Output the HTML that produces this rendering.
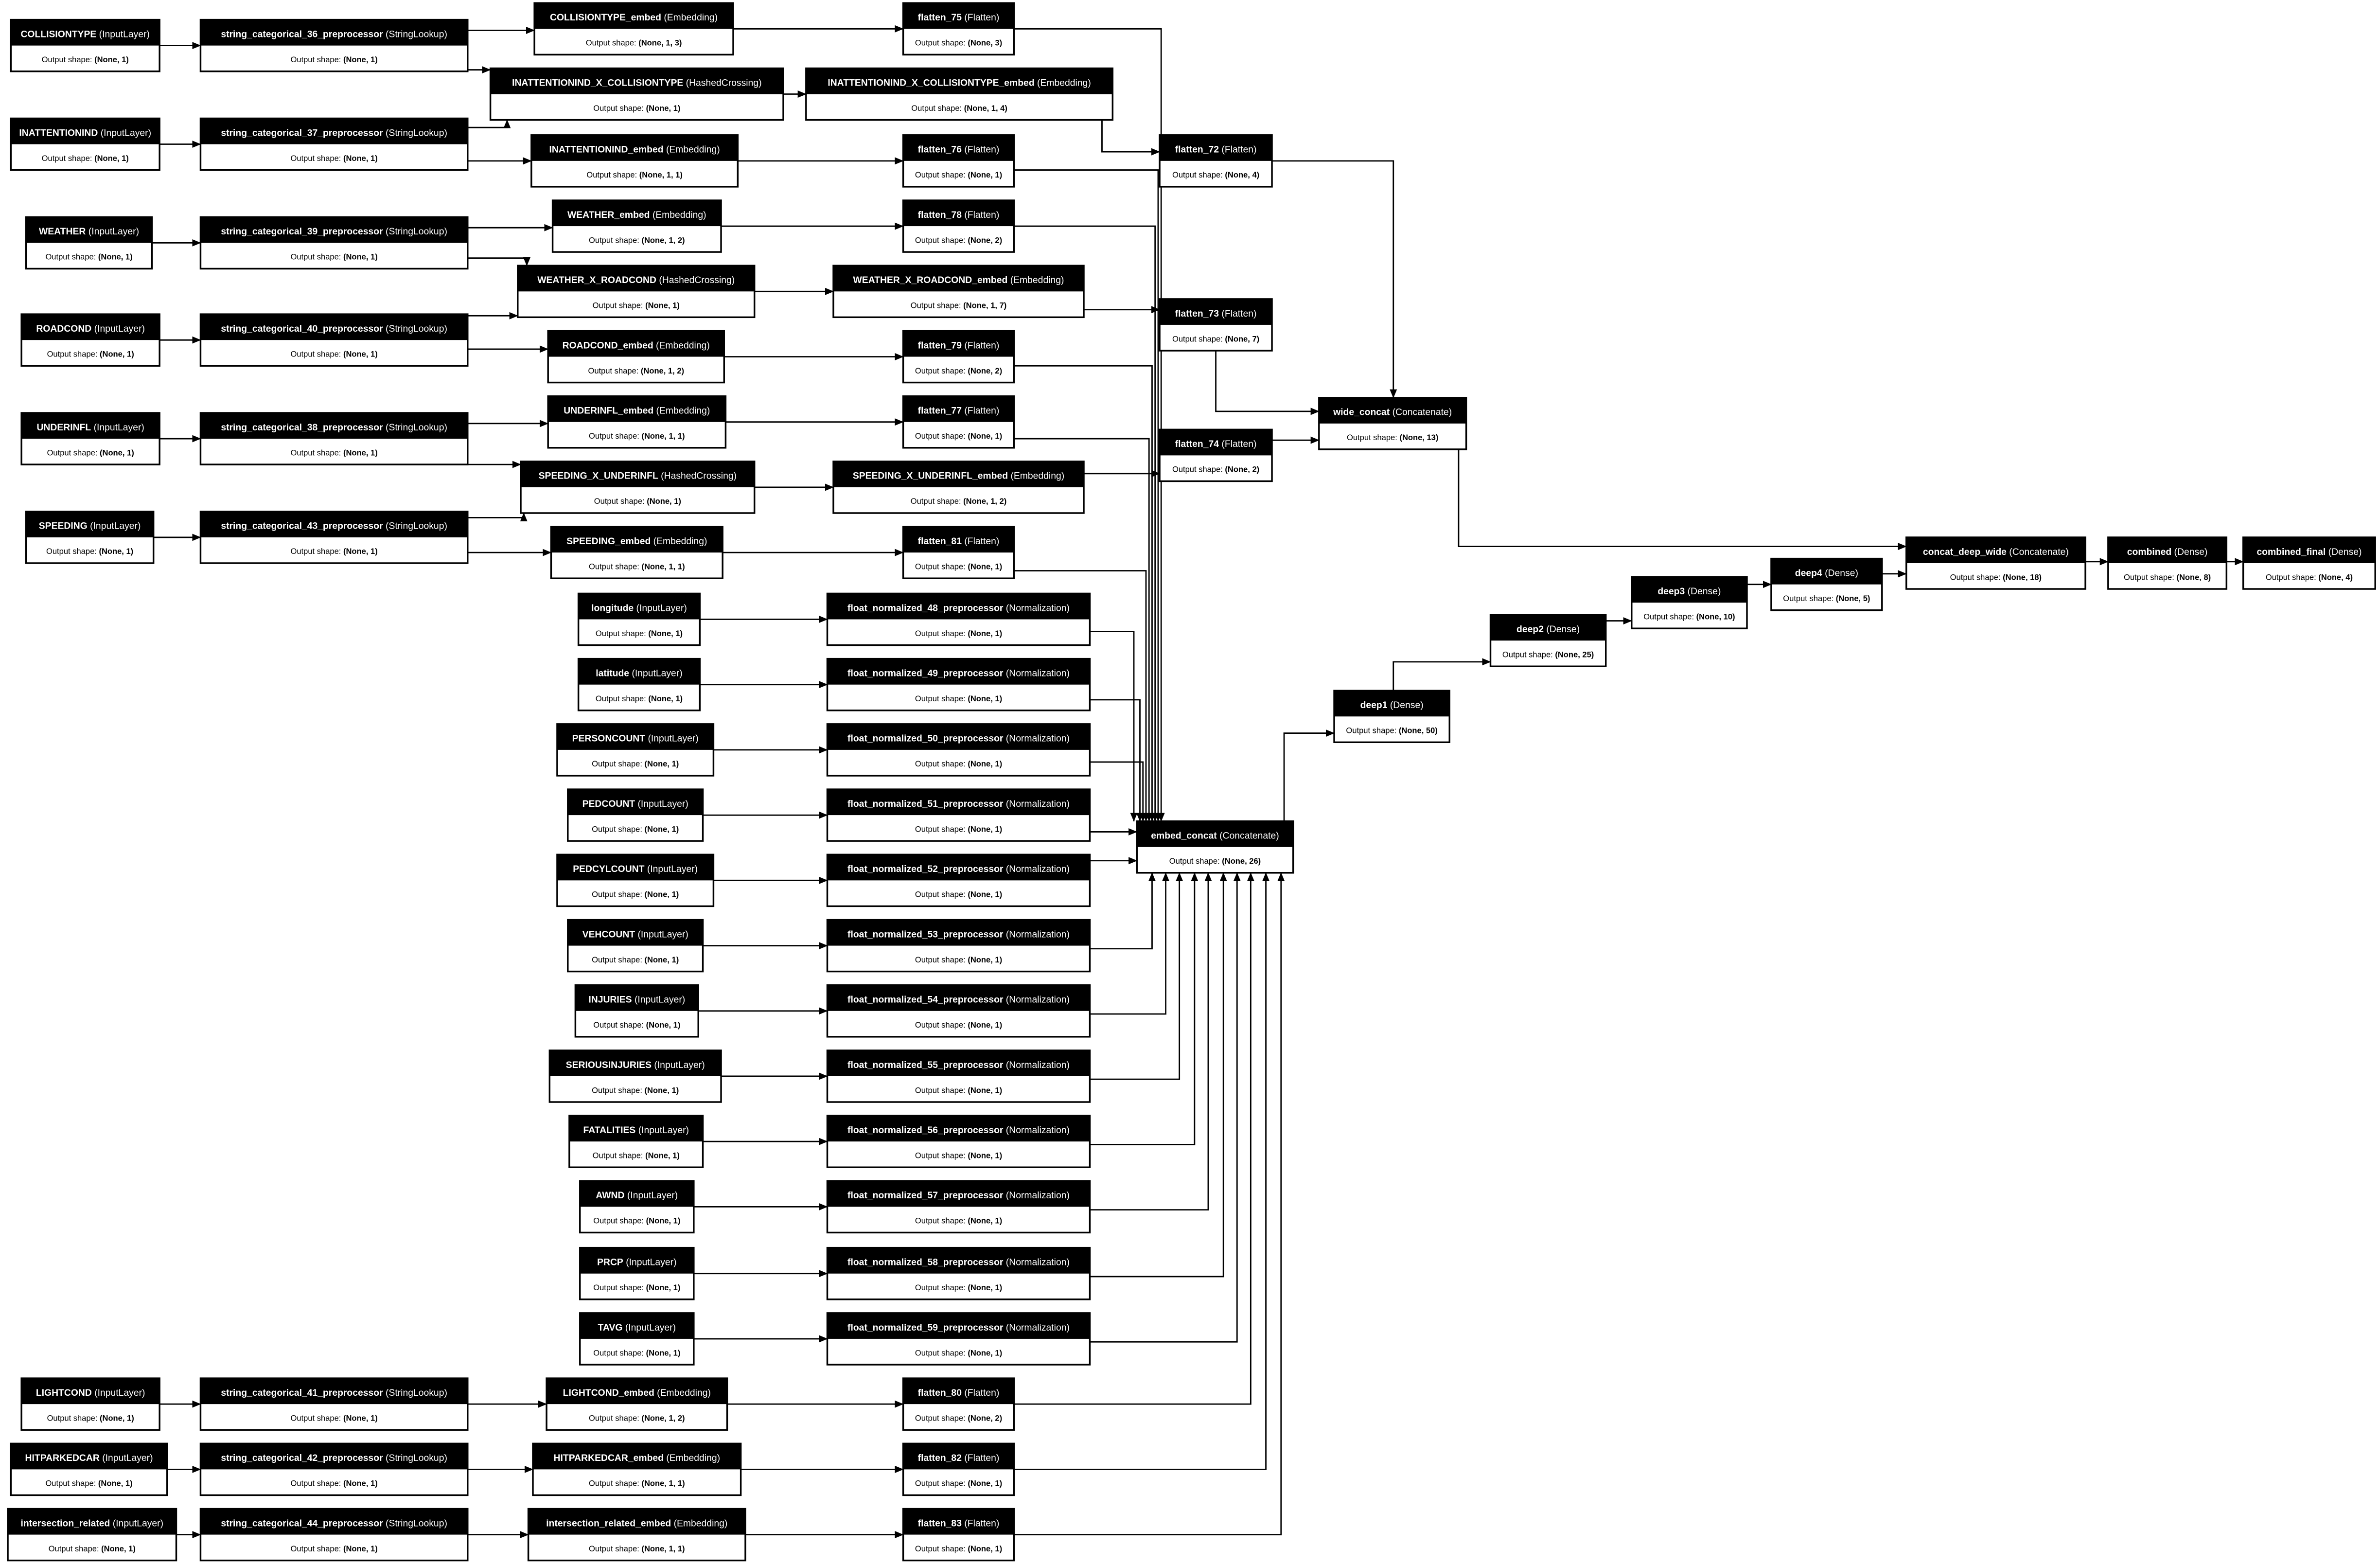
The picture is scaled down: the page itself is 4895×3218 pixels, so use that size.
<!DOCTYPE html>
<html><head><meta charset="utf-8">
<style>
html,body{margin:0;padding:0;background:#fff;}
svg{display:block;}
.h{font-family:"Liberation Sans",sans-serif;font-size:6.2px;fill:#fff;text-anchor:middle;}
.b{font-family:"Liberation Sans",sans-serif;font-size:5.3px;fill:#000;text-anchor:middle;}
.e{fill:none;stroke:#000;stroke-width:0.9;marker-end:url(#a);}
</style></head>
<body>
<svg width="4895" height="3218" viewBox="0 0 1568 1031" xmlns="http://www.w3.org/2000/svg">
<defs>
<marker id="a" markerWidth="6" markerHeight="6" refX="5.5" refY="3" orient="auto" markerUnits="userSpaceOnUse">
<path d="M0,0.6 L5.8,3 L0,5.4 Z" fill="#000"/></marker>
<g id="n"></g>
</defs>
<rect width="1568" height="1031" fill="#fff"/>

<!-- EDGES -->
<g>
<!-- inputs -> lookups -->
<path class="e" d="M105,30 H132"/>
<path class="e" d="M105,95 H132"/>
<path class="e" d="M100,160 H132"/>
<path class="e" d="M105,224 H132"/>
<path class="e" d="M105,289 H132"/>
<path class="e" d="M101,354 H132"/>
<path class="e" d="M105,925 H132"/>
<path class="e" d="M110,968 H132"/>
<path class="e" d="M116,1011 H132"/>
<!-- lookups -> embeds/crossings -->
<path class="e" d="M308,20 H352"/>
<path class="e" d="M308,46 H323"/>
<path class="e" d="M308,84 H334 V79"/>
<path class="e" d="M308,106 H350"/>
<path class="e" d="M308,150 H364"/>
<path class="e" d="M308,170 H347 V175"/>
<path class="e" d="M308,208 H341"/>
<path class="e" d="M308,230 H361"/>
<path class="e" d="M308,279 H361"/>
<path class="e" d="M308,306 H343"/>
<path class="e" d="M308,341 H345 V338"/>
<path class="e" d="M308,364 H363"/>
<path class="e" d="M308,925 H360"/>
<path class="e" d="M308,968 H351"/>
<path class="e" d="M308,1011 H348"/>
<!-- crossing -> crossing embeds -->
<path class="e" d="M516,62 H531"/>
<path class="e" d="M497,192 H549"/>
<path class="e" d="M497,321 H549"/>
<!-- embeds -> flatten -->
<path class="e" d="M483,19 H595"/>
<path class="e" d="M486,106 H595"/>
<path class="e" d="M475,149 H595"/>
<path class="e" d="M477,235 H595"/>
<path class="e" d="M478,278 H595"/>
<path class="e" d="M476,364 H595"/>
<path class="e" d="M479,925 H595"/>
<path class="e" d="M488,968 H595"/>
<path class="e" d="M491,1011 H595"/>
<!-- crossing embeds -> flatten 72/73/74 -->
<path class="e" d="M726,79 V100 H764"/>
<path class="e" d="M714,204 H764"/>
<path class="e" d="M714,312 H764"/>
<!-- flatten 72/73/74 -> wide -->
<path class="e" d="M838,106 H918 V262"/>
<path class="e" d="M801,231 V271 H869"/>
<path class="e" d="M838,290 H869"/>
<path class="e" d="M961,296 V360 H1256"/>
<!-- numeric inputs -> norms -->
<path class="e" d="M461,408 H545"/>
<path class="e" d="M461,451 H545"/>
<path class="e" d="M470,494 H545"/>
<path class="e" d="M463,537 H545"/>
<path class="e" d="M470,580 H545"/>
<path class="e" d="M463,623 H545"/>
<path class="e" d="M460,666 H545"/>
<path class="e" d="M475,709 H545"/>
<path class="e" d="M463,752 H545"/>
<path class="e" d="M457,795 H545"/>
<path class="e" d="M457,839 H545"/>
<path class="e" d="M457,882 H545"/>
<!-- to embed_concat top -->
<path class="e" d="M668,19 H765 V541"/>
<path class="e" d="M668,112 H763 V541"/>
<path class="e" d="M668,149 H761 V541"/>
<path class="e" d="M668,241 H759 V541"/>
<path class="e" d="M668,289 H757 V541"/>
<path class="e" d="M668,376 H755 V541"/>
<path class="e" d="M718,416 H747 V541"/>
<path class="e" d="M718,461 H751 V541"/>
<path class="e" d="M718,502 H753 V541"/>
<!-- left side -->
<path class="e" d="M718,548 H749"/>
<path class="e" d="M718,567 H749"/>
<!-- bottom -->
<path class="e" d="M718,625 H759 V575"/>
<path class="e" d="M718,668 H768 V575"/>
<path class="e" d="M718,711 H777 V575"/>
<path class="e" d="M718,754 H787 V575"/>
<path class="e" d="M718,797 H796 V575"/>
<path class="e" d="M718,841 H806 V575"/>
<path class="e" d="M718,884 H815 V575"/>
<path class="e" d="M668,925 H824 V575"/>
<path class="e" d="M668,968 H834 V575"/>
<path class="e" d="M668,1011 H844 V575"/>
<!-- deep path -->
<path class="e" d="M846,541 V483 H879"/>
<path class="e" d="M918,455 V436 H982"/>
<path class="e" d="M1058,409 H1075"/>
<path class="e" d="M1151,385 H1167"/>
<path class="e" d="M1240,378 H1256"/>
<path class="e" d="M1374,370 H1389"/>
<path class="e" d="M1467,370 H1478"/>
</g>

<!-- NODES -->
<g stroke="#000" stroke-width="1.1">
<!-- helper: each node = white rect + black header -->
</g>
<g>
<!-- Input column -->
<g transform="translate(7,13)"><rect width="98" height="34" fill="#fff" stroke="#000" stroke-width="1.1"/><rect width="98" height="17"/><text class="h" x="49" y="11.5"><tspan font-weight="bold">COLLISIONTYPE</tspan> (InputLayer)</text><text class="b" x="49" y="28">Output shape: <tspan font-weight="bold">(None, 1)</tspan></text></g>
<g transform="translate(7,78)"><rect width="98" height="34" fill="#fff" stroke="#000" stroke-width="1.1"/><rect width="98" height="17"/><text class="h" x="49" y="11.5"><tspan font-weight="bold">INATTENTIONIND</tspan> (InputLayer)</text><text class="b" x="49" y="28">Output shape: <tspan font-weight="bold">(None, 1)</tspan></text></g>
<g transform="translate(17,143)"><rect width="83" height="34" fill="#fff" stroke="#000" stroke-width="1.1"/><rect width="83" height="17"/><text class="h" x="41.5" y="11.5"><tspan font-weight="bold">WEATHER</tspan> (InputLayer)</text><text class="b" x="41.5" y="28">Output shape: <tspan font-weight="bold">(None, 1)</tspan></text></g>
<g transform="translate(14,207)"><rect width="91" height="34" fill="#fff" stroke="#000" stroke-width="1.1"/><rect width="91" height="17"/><text class="h" x="45.5" y="11.5"><tspan font-weight="bold">ROADCOND</tspan> (InputLayer)</text><text class="b" x="45.5" y="28">Output shape: <tspan font-weight="bold">(None, 1)</tspan></text></g>
<g transform="translate(14,272)"><rect width="91" height="34" fill="#fff" stroke="#000" stroke-width="1.1"/><rect width="91" height="17"/><text class="h" x="45.5" y="11.5"><tspan font-weight="bold">UNDERINFL</tspan> (InputLayer)</text><text class="b" x="45.5" y="28">Output shape: <tspan font-weight="bold">(None, 1)</tspan></text></g>
<g transform="translate(17,337)"><rect width="84" height="34" fill="#fff" stroke="#000" stroke-width="1.1"/><rect width="84" height="17"/><text class="h" x="42" y="11.5"><tspan font-weight="bold">SPEEDING</tspan> (InputLayer)</text><text class="b" x="42" y="28">Output shape: <tspan font-weight="bold">(None, 1)</tspan></text></g>
<g transform="translate(14,908)"><rect width="91" height="34" fill="#fff" stroke="#000" stroke-width="1.1"/><rect width="91" height="17"/><text class="h" x="45.5" y="11.5"><tspan font-weight="bold">LIGHTCOND</tspan> (InputLayer)</text><text class="b" x="45.5" y="28">Output shape: <tspan font-weight="bold">(None, 1)</tspan></text></g>
<g transform="translate(7,951)"><rect width="103" height="34" fill="#fff" stroke="#000" stroke-width="1.1"/><rect width="103" height="17"/><text class="h" x="51.5" y="11.5"><tspan font-weight="bold">HITPARKEDCAR</tspan> (InputLayer)</text><text class="b" x="51.5" y="28">Output shape: <tspan font-weight="bold">(None, 1)</tspan></text></g>
<g transform="translate(5,994)"><rect width="111" height="34" fill="#fff" stroke="#000" stroke-width="1.1"/><rect width="111" height="17"/><text class="h" x="55.5" y="11.5"><tspan font-weight="bold">intersection_related</tspan> (InputLayer)</text><text class="b" x="55.5" y="28">Output shape: <tspan font-weight="bold">(None, 1)</tspan></text></g>

<!-- Lookups -->
<g transform="translate(132,13)"><rect width="176" height="34" fill="#fff" stroke="#000" stroke-width="1.1"/><rect width="176" height="17"/><text class="h" x="88" y="11.5"><tspan font-weight="bold">string_categorical_36_preprocessor</tspan> (StringLookup)</text><text class="b" x="88" y="28">Output shape: <tspan font-weight="bold">(None, 1)</tspan></text></g>
<g transform="translate(132,78)"><rect width="176" height="34" fill="#fff" stroke="#000" stroke-width="1.1"/><rect width="176" height="17"/><text class="h" x="88" y="11.5"><tspan font-weight="bold">string_categorical_37_preprocessor</tspan> (StringLookup)</text><text class="b" x="88" y="28">Output shape: <tspan font-weight="bold">(None, 1)</tspan></text></g>
<g transform="translate(132,143)"><rect width="176" height="34" fill="#fff" stroke="#000" stroke-width="1.1"/><rect width="176" height="17"/><text class="h" x="88" y="11.5"><tspan font-weight="bold">string_categorical_39_preprocessor</tspan> (StringLookup)</text><text class="b" x="88" y="28">Output shape: <tspan font-weight="bold">(None, 1)</tspan></text></g>
<g transform="translate(132,207)"><rect width="176" height="34" fill="#fff" stroke="#000" stroke-width="1.1"/><rect width="176" height="17"/><text class="h" x="88" y="11.5"><tspan font-weight="bold">string_categorical_40_preprocessor</tspan> (StringLookup)</text><text class="b" x="88" y="28">Output shape: <tspan font-weight="bold">(None, 1)</tspan></text></g>
<g transform="translate(132,272)"><rect width="176" height="34" fill="#fff" stroke="#000" stroke-width="1.1"/><rect width="176" height="17"/><text class="h" x="88" y="11.5"><tspan font-weight="bold">string_categorical_38_preprocessor</tspan> (StringLookup)</text><text class="b" x="88" y="28">Output shape: <tspan font-weight="bold">(None, 1)</tspan></text></g>
<g transform="translate(132,337)"><rect width="176" height="34" fill="#fff" stroke="#000" stroke-width="1.1"/><rect width="176" height="17"/><text class="h" x="88" y="11.5"><tspan font-weight="bold">string_categorical_43_preprocessor</tspan> (StringLookup)</text><text class="b" x="88" y="28">Output shape: <tspan font-weight="bold">(None, 1)</tspan></text></g>
<g transform="translate(132,908)"><rect width="176" height="34" fill="#fff" stroke="#000" stroke-width="1.1"/><rect width="176" height="17"/><text class="h" x="88" y="11.5"><tspan font-weight="bold">string_categorical_41_preprocessor</tspan> (StringLookup)</text><text class="b" x="88" y="28">Output shape: <tspan font-weight="bold">(None, 1)</tspan></text></g>
<g transform="translate(132,951)"><rect width="176" height="34" fill="#fff" stroke="#000" stroke-width="1.1"/><rect width="176" height="17"/><text class="h" x="88" y="11.5"><tspan font-weight="bold">string_categorical_42_preprocessor</tspan> (StringLookup)</text><text class="b" x="88" y="28">Output shape: <tspan font-weight="bold">(None, 1)</tspan></text></g>
<g transform="translate(132,994)"><rect width="176" height="34" fill="#fff" stroke="#000" stroke-width="1.1"/><rect width="176" height="17"/><text class="h" x="88" y="11.5"><tspan font-weight="bold">string_categorical_44_preprocessor</tspan> (StringLookup)</text><text class="b" x="88" y="28">Output shape: <tspan font-weight="bold">(None, 1)</tspan></text></g>

<!-- Embeddings / crossings -->
<g transform="translate(352,2)"><rect width="131" height="34" fill="#fff" stroke="#000" stroke-width="1.1"/><rect width="131" height="17"/><text class="h" x="65.5" y="11.5"><tspan font-weight="bold">COLLISIONTYPE_embed</tspan> (Embedding)</text><text class="b" x="65.5" y="28">Output shape: <tspan font-weight="bold">(None, 1, 3)</tspan></text></g>
<g transform="translate(323,45)"><rect width="193" height="34" fill="#fff" stroke="#000" stroke-width="1.1"/><rect width="193" height="17"/><text class="h" x="96.5" y="11.5"><tspan font-weight="bold">INATTENTIONIND_X_COLLISIONTYPE</tspan> (HashedCrossing)</text><text class="b" x="96.5" y="28">Output shape: <tspan font-weight="bold">(None, 1)</tspan></text></g>
<g transform="translate(350,89)"><rect width="136" height="34" fill="#fff" stroke="#000" stroke-width="1.1"/><rect width="136" height="17"/><text class="h" x="68" y="11.5"><tspan font-weight="bold">INATTENTIONIND_embed</tspan> (Embedding)</text><text class="b" x="68" y="28">Output shape: <tspan font-weight="bold">(None, 1, 1)</tspan></text></g>
<g transform="translate(364,132)"><rect width="111" height="34" fill="#fff" stroke="#000" stroke-width="1.1"/><rect width="111" height="17"/><text class="h" x="55.5" y="11.5"><tspan font-weight="bold">WEATHER_embed</tspan> (Embedding)</text><text class="b" x="55.5" y="28">Output shape: <tspan font-weight="bold">(None, 1, 2)</tspan></text></g>
<g transform="translate(341,175)"><rect width="156" height="34" fill="#fff" stroke="#000" stroke-width="1.1"/><rect width="156" height="17"/><text class="h" x="78" y="11.5"><tspan font-weight="bold">WEATHER_X_ROADCOND</tspan> (HashedCrossing)</text><text class="b" x="78" y="28">Output shape: <tspan font-weight="bold">(None, 1)</tspan></text></g>
<g transform="translate(361,218)"><rect width="116" height="34" fill="#fff" stroke="#000" stroke-width="1.1"/><rect width="116" height="17"/><text class="h" x="58" y="11.5"><tspan font-weight="bold">ROADCOND_embed</tspan> (Embedding)</text><text class="b" x="58" y="28">Output shape: <tspan font-weight="bold">(None, 1, 2)</tspan></text></g>
<g transform="translate(361,261)"><rect width="117" height="34" fill="#fff" stroke="#000" stroke-width="1.1"/><rect width="117" height="17"/><text class="h" x="58.5" y="11.5"><tspan font-weight="bold">UNDERINFL_embed</tspan> (Embedding)</text><text class="b" x="58.5" y="28">Output shape: <tspan font-weight="bold">(None, 1, 1)</tspan></text></g>
<g transform="translate(343,304)"><rect width="154" height="34" fill="#fff" stroke="#000" stroke-width="1.1"/><rect width="154" height="17"/><text class="h" x="77" y="11.5"><tspan font-weight="bold">SPEEDING_X_UNDERINFL</tspan> (HashedCrossing)</text><text class="b" x="77" y="28">Output shape: <tspan font-weight="bold">(None, 1)</tspan></text></g>
<g transform="translate(363,347)"><rect width="113" height="34" fill="#fff" stroke="#000" stroke-width="1.1"/><rect width="113" height="17"/><text class="h" x="56.5" y="11.5"><tspan font-weight="bold">SPEEDING_embed</tspan> (Embedding)</text><text class="b" x="56.5" y="28">Output shape: <tspan font-weight="bold">(None, 1, 1)</tspan></text></g>
<g transform="translate(360,908)"><rect width="119" height="34" fill="#fff" stroke="#000" stroke-width="1.1"/><rect width="119" height="17"/><text class="h" x="59.5" y="11.5"><tspan font-weight="bold">LIGHTCOND_embed</tspan> (Embedding)</text><text class="b" x="59.5" y="28">Output shape: <tspan font-weight="bold">(None, 1, 2)</tspan></text></g>
<g transform="translate(351,951)"><rect width="137" height="34" fill="#fff" stroke="#000" stroke-width="1.1"/><rect width="137" height="17"/><text class="h" x="68.5" y="11.5"><tspan font-weight="bold">HITPARKEDCAR_embed</tspan> (Embedding)</text><text class="b" x="68.5" y="28">Output shape: <tspan font-weight="bold">(None, 1, 1)</tspan></text></g>
<g transform="translate(348,994)"><rect width="143" height="34" fill="#fff" stroke="#000" stroke-width="1.1"/><rect width="143" height="17"/><text class="h" x="71.5" y="11.5"><tspan font-weight="bold">intersection_related_embed</tspan> (Embedding)</text><text class="b" x="71.5" y="28">Output shape: <tspan font-weight="bold">(None, 1, 1)</tspan></text></g>

<!-- Crossing embeds -->
<g transform="translate(531,45)"><rect width="202" height="34" fill="#fff" stroke="#000" stroke-width="1.1"/><rect width="202" height="17"/><text class="h" x="101" y="11.5"><tspan font-weight="bold">INATTENTIONIND_X_COLLISIONTYPE_embed</tspan> (Embedding)</text><text class="b" x="101" y="28">Output shape: <tspan font-weight="bold">(None, 1, 4)</tspan></text></g>
<g transform="translate(549,175)"><rect width="165" height="34" fill="#fff" stroke="#000" stroke-width="1.1"/><rect width="165" height="17"/><text class="h" x="82.5" y="11.5"><tspan font-weight="bold">WEATHER_X_ROADCOND_embed</tspan> (Embedding)</text><text class="b" x="82.5" y="28">Output shape: <tspan font-weight="bold">(None, 1, 7)</tspan></text></g>
<g transform="translate(549,304)"><rect width="165" height="34" fill="#fff" stroke="#000" stroke-width="1.1"/><rect width="165" height="17"/><text class="h" x="82.5" y="11.5"><tspan font-weight="bold">SPEEDING_X_UNDERINFL_embed</tspan> (Embedding)</text><text class="b" x="82.5" y="28">Output shape: <tspan font-weight="bold">(None, 1, 2)</tspan></text></g>

<!-- Flattens -->
<g transform="translate(595,2)"><rect width="73" height="34" fill="#fff" stroke="#000" stroke-width="1.1"/><rect width="73" height="17"/><text class="h" x="36.5" y="11.5"><tspan font-weight="bold">flatten_75</tspan> (Flatten)</text><text class="b" x="36.5" y="28">Output shape: <tspan font-weight="bold">(None, 3)</tspan></text></g>
<g transform="translate(595,89)"><rect width="73" height="34" fill="#fff" stroke="#000" stroke-width="1.1"/><rect width="73" height="17"/><text class="h" x="36.5" y="11.5"><tspan font-weight="bold">flatten_76</tspan> (Flatten)</text><text class="b" x="36.5" y="28">Output shape: <tspan font-weight="bold">(None, 1)</tspan></text></g>
<g transform="translate(595,132)"><rect width="73" height="34" fill="#fff" stroke="#000" stroke-width="1.1"/><rect width="73" height="17"/><text class="h" x="36.5" y="11.5"><tspan font-weight="bold">flatten_78</tspan> (Flatten)</text><text class="b" x="36.5" y="28">Output shape: <tspan font-weight="bold">(None, 2)</tspan></text></g>
<g transform="translate(595,218)"><rect width="73" height="34" fill="#fff" stroke="#000" stroke-width="1.1"/><rect width="73" height="17"/><text class="h" x="36.5" y="11.5"><tspan font-weight="bold">flatten_79</tspan> (Flatten)</text><text class="b" x="36.5" y="28">Output shape: <tspan font-weight="bold">(None, 2)</tspan></text></g>
<g transform="translate(595,261)"><rect width="73" height="34" fill="#fff" stroke="#000" stroke-width="1.1"/><rect width="73" height="17"/><text class="h" x="36.5" y="11.5"><tspan font-weight="bold">flatten_77</tspan> (Flatten)</text><text class="b" x="36.5" y="28">Output shape: <tspan font-weight="bold">(None, 1)</tspan></text></g>
<g transform="translate(595,347)"><rect width="73" height="34" fill="#fff" stroke="#000" stroke-width="1.1"/><rect width="73" height="17"/><text class="h" x="36.5" y="11.5"><tspan font-weight="bold">flatten_81</tspan> (Flatten)</text><text class="b" x="36.5" y="28">Output shape: <tspan font-weight="bold">(None, 1)</tspan></text></g>
<g transform="translate(595,908)"><rect width="73" height="34" fill="#fff" stroke="#000" stroke-width="1.1"/><rect width="73" height="17"/><text class="h" x="36.5" y="11.5"><tspan font-weight="bold">flatten_80</tspan> (Flatten)</text><text class="b" x="36.5" y="28">Output shape: <tspan font-weight="bold">(None, 2)</tspan></text></g>
<g transform="translate(595,951)"><rect width="73" height="34" fill="#fff" stroke="#000" stroke-width="1.1"/><rect width="73" height="17"/><text class="h" x="36.5" y="11.5"><tspan font-weight="bold">flatten_82</tspan> (Flatten)</text><text class="b" x="36.5" y="28">Output shape: <tspan font-weight="bold">(None, 1)</tspan></text></g>
<g transform="translate(595,994)"><rect width="73" height="34" fill="#fff" stroke="#000" stroke-width="1.1"/><rect width="73" height="17"/><text class="h" x="36.5" y="11.5"><tspan font-weight="bold">flatten_83</tspan> (Flatten)</text><text class="b" x="36.5" y="28">Output shape: <tspan font-weight="bold">(None, 1)</tspan></text></g>
<g transform="translate(764,89)"><rect width="74" height="34" fill="#fff" stroke="#000" stroke-width="1.1"/><rect width="74" height="17"/><text class="h" x="37" y="11.5"><tspan font-weight="bold">flatten_72</tspan> (Flatten)</text><text class="b" x="37" y="28">Output shape: <tspan font-weight="bold">(None, 4)</tspan></text></g>
<g transform="translate(764,197)"><rect width="74" height="34" fill="#fff" stroke="#000" stroke-width="1.1"/><rect width="74" height="17"/><text class="h" x="37" y="11.5"><tspan font-weight="bold">flatten_73</tspan> (Flatten)</text><text class="b" x="37" y="28">Output shape: <tspan font-weight="bold">(None, 7)</tspan></text></g>
<g transform="translate(764,283)"><rect width="74" height="34" fill="#fff" stroke="#000" stroke-width="1.1"/><rect width="74" height="17"/><text class="h" x="37" y="11.5"><tspan font-weight="bold">flatten_74</tspan> (Flatten)</text><text class="b" x="37" y="28">Output shape: <tspan font-weight="bold">(None, 2)</tspan></text></g>
<g transform="translate(869,262)"><rect width="97" height="34" fill="#fff" stroke="#000" stroke-width="1.1"/><rect width="97" height="17"/><text class="h" x="48.5" y="11.5"><tspan font-weight="bold">wide_concat</tspan> (Concatenate)</text><text class="b" x="48.5" y="28">Output shape: <tspan font-weight="bold">(None, 13)</tspan></text></g>

<!-- Numeric inputs -->
<g transform="translate(381,391)"><rect width="80" height="34" fill="#fff" stroke="#000" stroke-width="1.1"/><rect width="80" height="17"/><text class="h" x="40" y="11.5"><tspan font-weight="bold">longitude</tspan> (InputLayer)</text><text class="b" x="40" y="28">Output shape: <tspan font-weight="bold">(None, 1)</tspan></text></g>
<g transform="translate(381,434)"><rect width="80" height="34" fill="#fff" stroke="#000" stroke-width="1.1"/><rect width="80" height="17"/><text class="h" x="40" y="11.5"><tspan font-weight="bold">latitude</tspan> (InputLayer)</text><text class="b" x="40" y="28">Output shape: <tspan font-weight="bold">(None, 1)</tspan></text></g>
<g transform="translate(367,477)"><rect width="103" height="34" fill="#fff" stroke="#000" stroke-width="1.1"/><rect width="103" height="17"/><text class="h" x="51.5" y="11.5"><tspan font-weight="bold">PERSONCOUNT</tspan> (InputLayer)</text><text class="b" x="51.5" y="28">Output shape: <tspan font-weight="bold">(None, 1)</tspan></text></g>
<g transform="translate(374,520)"><rect width="89" height="34" fill="#fff" stroke="#000" stroke-width="1.1"/><rect width="89" height="17"/><text class="h" x="44.5" y="11.5"><tspan font-weight="bold">PEDCOUNT</tspan> (InputLayer)</text><text class="b" x="44.5" y="28">Output shape: <tspan font-weight="bold">(None, 1)</tspan></text></g>
<g transform="translate(367,563)"><rect width="103" height="34" fill="#fff" stroke="#000" stroke-width="1.1"/><rect width="103" height="17"/><text class="h" x="51.5" y="11.5"><tspan font-weight="bold">PEDCYLCOUNT</tspan> (InputLayer)</text><text class="b" x="51.5" y="28">Output shape: <tspan font-weight="bold">(None, 1)</tspan></text></g>
<g transform="translate(374,606)"><rect width="89" height="34" fill="#fff" stroke="#000" stroke-width="1.1"/><rect width="89" height="17"/><text class="h" x="44.5" y="11.5"><tspan font-weight="bold">VEHCOUNT</tspan> (InputLayer)</text><text class="b" x="44.5" y="28">Output shape: <tspan font-weight="bold">(None, 1)</tspan></text></g>
<g transform="translate(379,649)"><rect width="81" height="34" fill="#fff" stroke="#000" stroke-width="1.1"/><rect width="81" height="17"/><text class="h" x="40.5" y="11.5"><tspan font-weight="bold">INJURIES</tspan> (InputLayer)</text><text class="b" x="40.5" y="28">Output shape: <tspan font-weight="bold">(None, 1)</tspan></text></g>
<g transform="translate(362,692)"><rect width="113" height="34" fill="#fff" stroke="#000" stroke-width="1.1"/><rect width="113" height="17"/><text class="h" x="56.5" y="11.5"><tspan font-weight="bold">SERIOUSINJURIES</tspan> (InputLayer)</text><text class="b" x="56.5" y="28">Output shape: <tspan font-weight="bold">(None, 1)</tspan></text></g>
<g transform="translate(375,735)"><rect width="88" height="34" fill="#fff" stroke="#000" stroke-width="1.1"/><rect width="88" height="17"/><text class="h" x="44" y="11.5"><tspan font-weight="bold">FATALITIES</tspan> (InputLayer)</text><text class="b" x="44" y="28">Output shape: <tspan font-weight="bold">(None, 1)</tspan></text></g>
<g transform="translate(382,778)"><rect width="75" height="34" fill="#fff" stroke="#000" stroke-width="1.1"/><rect width="75" height="17"/><text class="h" x="37.5" y="11.5"><tspan font-weight="bold">AWND</tspan> (InputLayer)</text><text class="b" x="37.5" y="28">Output shape: <tspan font-weight="bold">(None, 1)</tspan></text></g>
<g transform="translate(382,822)"><rect width="75" height="34" fill="#fff" stroke="#000" stroke-width="1.1"/><rect width="75" height="17"/><text class="h" x="37.5" y="11.5"><tspan font-weight="bold">PRCP</tspan> (InputLayer)</text><text class="b" x="37.5" y="28">Output shape: <tspan font-weight="bold">(None, 1)</tspan></text></g>
<g transform="translate(382,865)"><rect width="75" height="34" fill="#fff" stroke="#000" stroke-width="1.1"/><rect width="75" height="17"/><text class="h" x="37.5" y="11.5"><tspan font-weight="bold">TAVG</tspan> (InputLayer)</text><text class="b" x="37.5" y="28">Output shape: <tspan font-weight="bold">(None, 1)</tspan></text></g>

<!-- Normalizations -->
<g transform="translate(545,391)"><rect width="173" height="34" fill="#fff" stroke="#000" stroke-width="1.1"/><rect width="173" height="17"/><text class="h" x="86.5" y="11.5"><tspan font-weight="bold">float_normalized_48_preprocessor</tspan> (Normalization)</text><text class="b" x="86.5" y="28">Output shape: <tspan font-weight="bold">(None, 1)</tspan></text></g>
<g transform="translate(545,434)"><rect width="173" height="34" fill="#fff" stroke="#000" stroke-width="1.1"/><rect width="173" height="17"/><text class="h" x="86.5" y="11.5"><tspan font-weight="bold">float_normalized_49_preprocessor</tspan> (Normalization)</text><text class="b" x="86.5" y="28">Output shape: <tspan font-weight="bold">(None, 1)</tspan></text></g>
<g transform="translate(545,477)"><rect width="173" height="34" fill="#fff" stroke="#000" stroke-width="1.1"/><rect width="173" height="17"/><text class="h" x="86.5" y="11.5"><tspan font-weight="bold">float_normalized_50_preprocessor</tspan> (Normalization)</text><text class="b" x="86.5" y="28">Output shape: <tspan font-weight="bold">(None, 1)</tspan></text></g>
<g transform="translate(545,520)"><rect width="173" height="34" fill="#fff" stroke="#000" stroke-width="1.1"/><rect width="173" height="17"/><text class="h" x="86.5" y="11.5"><tspan font-weight="bold">float_normalized_51_preprocessor</tspan> (Normalization)</text><text class="b" x="86.5" y="28">Output shape: <tspan font-weight="bold">(None, 1)</tspan></text></g>
<g transform="translate(545,563)"><rect width="173" height="34" fill="#fff" stroke="#000" stroke-width="1.1"/><rect width="173" height="17"/><text class="h" x="86.5" y="11.5"><tspan font-weight="bold">float_normalized_52_preprocessor</tspan> (Normalization)</text><text class="b" x="86.5" y="28">Output shape: <tspan font-weight="bold">(None, 1)</tspan></text></g>
<g transform="translate(545,606)"><rect width="173" height="34" fill="#fff" stroke="#000" stroke-width="1.1"/><rect width="173" height="17"/><text class="h" x="86.5" y="11.5"><tspan font-weight="bold">float_normalized_53_preprocessor</tspan> (Normalization)</text><text class="b" x="86.5" y="28">Output shape: <tspan font-weight="bold">(None, 1)</tspan></text></g>
<g transform="translate(545,649)"><rect width="173" height="34" fill="#fff" stroke="#000" stroke-width="1.1"/><rect width="173" height="17"/><text class="h" x="86.5" y="11.5"><tspan font-weight="bold">float_normalized_54_preprocessor</tspan> (Normalization)</text><text class="b" x="86.5" y="28">Output shape: <tspan font-weight="bold">(None, 1)</tspan></text></g>
<g transform="translate(545,692)"><rect width="173" height="34" fill="#fff" stroke="#000" stroke-width="1.1"/><rect width="173" height="17"/><text class="h" x="86.5" y="11.5"><tspan font-weight="bold">float_normalized_55_preprocessor</tspan> (Normalization)</text><text class="b" x="86.5" y="28">Output shape: <tspan font-weight="bold">(None, 1)</tspan></text></g>
<g transform="translate(545,735)"><rect width="173" height="34" fill="#fff" stroke="#000" stroke-width="1.1"/><rect width="173" height="17"/><text class="h" x="86.5" y="11.5"><tspan font-weight="bold">float_normalized_56_preprocessor</tspan> (Normalization)</text><text class="b" x="86.5" y="28">Output shape: <tspan font-weight="bold">(None, 1)</tspan></text></g>
<g transform="translate(545,778)"><rect width="173" height="34" fill="#fff" stroke="#000" stroke-width="1.1"/><rect width="173" height="17"/><text class="h" x="86.5" y="11.5"><tspan font-weight="bold">float_normalized_57_preprocessor</tspan> (Normalization)</text><text class="b" x="86.5" y="28">Output shape: <tspan font-weight="bold">(None, 1)</tspan></text></g>
<g transform="translate(545,822)"><rect width="173" height="34" fill="#fff" stroke="#000" stroke-width="1.1"/><rect width="173" height="17"/><text class="h" x="86.5" y="11.5"><tspan font-weight="bold">float_normalized_58_preprocessor</tspan> (Normalization)</text><text class="b" x="86.5" y="28">Output shape: <tspan font-weight="bold">(None, 1)</tspan></text></g>
<g transform="translate(545,865)"><rect width="173" height="34" fill="#fff" stroke="#000" stroke-width="1.1"/><rect width="173" height="17"/><text class="h" x="86.5" y="11.5"><tspan font-weight="bold">float_normalized_59_preprocessor</tspan> (Normalization)</text><text class="b" x="86.5" y="28">Output shape: <tspan font-weight="bold">(None, 1)</tspan></text></g>

<!-- Right side -->
<g transform="translate(749,541)"><rect width="103" height="34" fill="#fff" stroke="#000" stroke-width="1.1"/><rect width="103" height="17"/><text class="h" x="51.5" y="11.5"><tspan font-weight="bold">embed_concat</tspan> (Concatenate)</text><text class="b" x="51.5" y="28">Output shape: <tspan font-weight="bold">(None, 26)</tspan></text></g>
<g transform="translate(879,455)"><rect width="76" height="34" fill="#fff" stroke="#000" stroke-width="1.1"/><rect width="76" height="17"/><text class="h" x="38" y="11.5"><tspan font-weight="bold">deep1</tspan> (Dense)</text><text class="b" x="38" y="28">Output shape: <tspan font-weight="bold">(None, 50)</tspan></text></g>
<g transform="translate(982,405)"><rect width="76" height="34" fill="#fff" stroke="#000" stroke-width="1.1"/><rect width="76" height="17"/><text class="h" x="38" y="11.5"><tspan font-weight="bold">deep2</tspan> (Dense)</text><text class="b" x="38" y="28">Output shape: <tspan font-weight="bold">(None, 25)</tspan></text></g>
<g transform="translate(1075,380)"><rect width="76" height="34" fill="#fff" stroke="#000" stroke-width="1.1"/><rect width="76" height="17"/><text class="h" x="38" y="11.5"><tspan font-weight="bold">deep3</tspan> (Dense)</text><text class="b" x="38" y="28">Output shape: <tspan font-weight="bold">(None, 10)</tspan></text></g>
<g transform="translate(1167,368)"><rect width="73" height="34" fill="#fff" stroke="#000" stroke-width="1.1"/><rect width="73" height="17"/><text class="h" x="36.5" y="11.5"><tspan font-weight="bold">deep4</tspan> (Dense)</text><text class="b" x="36.5" y="28">Output shape: <tspan font-weight="bold">(None, 5)</tspan></text></g>
<g transform="translate(1256,354)"><rect width="118" height="34" fill="#fff" stroke="#000" stroke-width="1.1"/><rect width="118" height="17"/><text class="h" x="59" y="11.5"><tspan font-weight="bold">concat_deep_wide</tspan> (Concatenate)</text><text class="b" x="59" y="28">Output shape: <tspan font-weight="bold">(None, 18)</tspan></text></g>
<g transform="translate(1389,354)"><rect width="78" height="34" fill="#fff" stroke="#000" stroke-width="1.1"/><rect width="78" height="17"/><text class="h" x="39" y="11.5"><tspan font-weight="bold">combined</tspan> (Dense)</text><text class="b" x="39" y="28">Output shape: <tspan font-weight="bold">(None, 8)</tspan></text></g>
<g transform="translate(1478,354)"><rect width="87" height="34" fill="#fff" stroke="#000" stroke-width="1.1"/><rect width="87" height="17"/><text class="h" x="43.5" y="11.5"><tspan font-weight="bold">combined_final</tspan> (Dense)</text><text class="b" x="43.5" y="28">Output shape: <tspan font-weight="bold">(None, 4)</tspan></text></g>
</g>
</svg>
</body></html>
